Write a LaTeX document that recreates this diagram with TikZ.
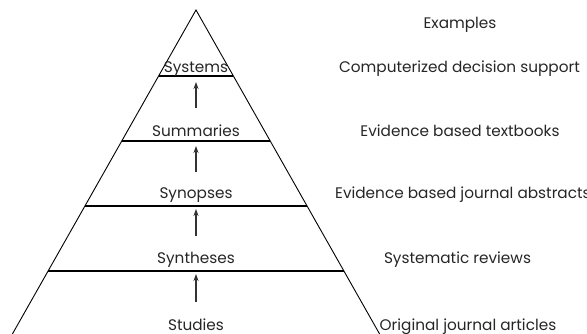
\documentclass[tikz,border=0pt]{standalone}
\usepackage{fontspec}
\setmainfont{Poppins}
\usetikzlibrary{arrows.meta,calc}
\begin{document}
\begin{tikzpicture}[x=1pt,y=-1pt,
  side/.style={line width=0.9pt,black},
  tier/.style={line width=1.4pt,black},
  up/.style={line width=1.3pt,draw=black!80,-{Stealth[length=7pt,width=5pt]}},
  lbl/.style={font=\fontsize{15.3}{17}\selectfont,text=black!85,inner sep=0pt,anchor=base},
  ex/.style={font=\fontsize{15.3}{17}\selectfont,text=black!85,inner sep=0pt,anchor=base}]
\useasboundingbox (0,0) rectangle (587,334);
\coordinate (A) at (196,10);
\coordinate (BL) at (12.4,334);
\coordinate (BR) at (379.6,334);
\draw[side] (BL) -- (A) -- (BR);
% tier lines
\coordinate (l1a) at (158.6,76);  \coordinate (l1b) at (233.4,76);
\coordinate (l2a) at (121.8,141); \coordinate (l2b) at (270.2,141);
\coordinate (l3a) at (84.9,206);  \coordinate (l3b) at (307.1,206);
\coordinate (l4a) at (48.1,271);  \coordinate (l4b) at (343.9,271);
\draw[tier] (l1a) -- (l1b);
\draw[tier] (l2a) -- (l2b);
\draw[tier] (l3a) -- (l3b);
\draw[tier] (l4a) -- (l4b);
% labels
\node[lbl] (sys) at (196,72.5) {Systems};
\node[lbl] (sum) at (196,137) {Summaries};
\node[lbl] (syn) at (196,199) {Synopses};
\node[lbl] (sth) at (196,263) {Syntheses};
\node[lbl] (stu) at (196,330) {Studies};
% arrows
\coordinate (a1s) at (196,108); \coordinate (a1e) at (196,82);
\coordinate (a2s) at (196,172); \coordinate (a2e) at (196,146);
\coordinate (a3s) at (196,236); \coordinate (a3e) at (196,209);
\coordinate (a4s) at (196,302); \coordinate (a4e) at (196,274);
\draw[up] (a1s) -- (a1e);
\draw[up] (a2s) -- (a2e);
\draw[up] (a3s) -- (a3e);
\draw[up] (a4s) -- (a4e);
% examples
\node[ex] (exh) at (460,29) {Examples};
\node[ex] (ex1) at (459.5,73) {Computerized decision support};
\node[ex] (ex2) at (460,137) {Evidence based textbooks};
\node[ex,anchor=base west] (ex3) at (335,199) {Evidence based journal abstracts};
\node[ex] (ex4) at (457.5,263) {Systematic reviews};
\node[ex] (ex5) at (468,330.5) {Original journal articles};
\end{tikzpicture}
\end{document}
